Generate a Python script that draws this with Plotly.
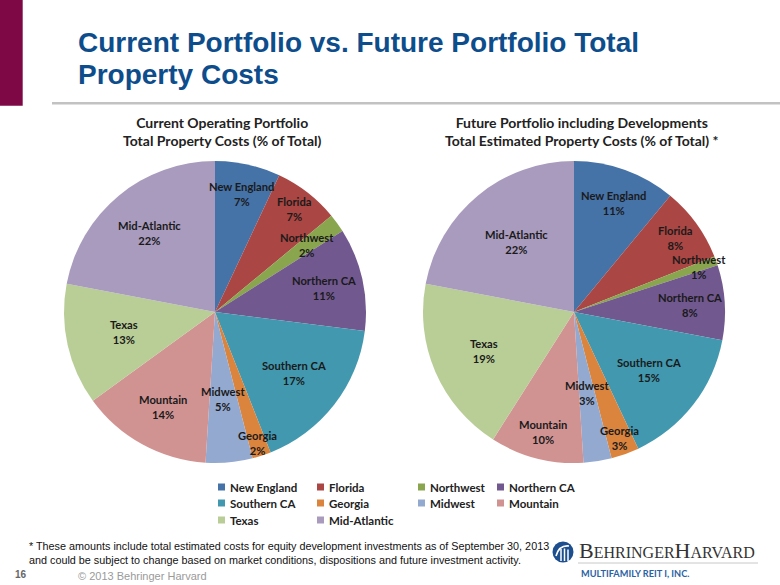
import math
import plotly.graph_objects as go

W, H = 780, 585

# ---------------- data ----------------
regions = ["New England", "Florida", "Northwest", "Northern CA", "Southern CA",
           "Georgia", "Midwest", "Mountain", "Texas", "Mid-Atlantic"]
current_pct = [7, 7, 2, 11, 17, 2, 5, 14, 13, 22]
future_pct = [11, 8, 1, 8, 15, 3, 3, 10, 19, 22]
colors = ["#4572A7", "#AA4643", "#89A54E", "#71588F", "#4198AF",
          "#DB843D", "#93A9CF", "#D19392", "#B9CD96", "#A99BBD"]

title_lines = ["Current Portfolio vs. Future Portfolio Total", "Property Costs"]
left_title = "Current Operating Portfolio<br>Total Property Costs (% of Total)"
right_title = "Future Portfolio including Developments<br>Total Estimated Property Costs (% of Total) *"
footnote = ("* These amounts include total estimated costs for equity development investments as of September 30, 2013<br>"
            "and could be subject to change based on market conditions, dispositions and future investment activity.")

# label placement (fraction of radius, Excel "best fit" style)
left_label_r = [0.80, 0.86, 0.75, 0.74, 0.66, 0.91, 0.58, 0.72, 0.62, 0.68]
right_label_r = [0.77, 0.83, 0.88, 0.77, 0.63, 0.89, 0.54, 0.82, 0.65, 0.60]

# ---------------- layout geometry ----------------
R = 151
pies = [
    dict(cx=215, cy=312, vals=current_pct, lr=left_label_r, title=left_title, tx=222),
    dict(cx=574, cy=312, vals=future_pct, lr=right_label_r, title=right_title, tx=582),
]


def px(x):
    return x / W


def py(y):
    return 1 - y / H


LBL_FONT = "Lato, Carlito, Calibri, sans-serif"

fig = go.Figure()
annotations = []
shapes = []

for p in pies:
    fig.add_trace(go.Pie(
        labels=regions, values=p["vals"], sort=False, direction="clockwise",
        rotation=0, marker=dict(colors=colors, line=dict(width=0)),
        textposition="none", hoverinfo="skip", showlegend=False,
        domain=dict(x=[px(p["cx"] - R), px(p["cx"] + R)],
                    y=[py(p["cy"] + R), py(p["cy"] - R)]),
    ))
    total = sum(p["vals"])
    cum = 0
    for lab, v, f in zip(regions, p["vals"], p["lr"]):
        th = 2 * math.pi * (cum + v / 2) / total
        cum += v
        x = p["cx"] + f * R * math.sin(th)
        y = p["cy"] - f * R * math.cos(th)
        annotations.append(dict(
            x=px(x), y=py(y), xref="paper", yref="paper", showarrow=False,
            text=f"<b>{lab}<br>{v}%</b>", xanchor="center", yanchor="middle",
            font=dict(family=LBL_FONT, size=11.2, color="#1a1a1a")))
    annotations.append(dict(
        x=px(p["tx"]), y=py(131), xref="paper", yref="paper", showarrow=False,
        text=f"<b>{p['title']}</b>", xanchor="center", yanchor="middle",
        font=dict(family=LBL_FONT, size=14, color="#222222")))

# ---------------- legend (swatches + text built from arrays) ----------------
col_x = [218, 317, 418, 497]
row_y = [487, 503, 520]
for i, (lab, c) in enumerate(zip(regions, colors)):
    r, k = divmod(i, 4)
    x0, yc = col_x[k], row_y[r]
    shapes.append(dict(type="rect", xref="paper", yref="paper",
                       x0=px(x0), x1=px(x0 + 7), y0=py(yc + 3.5), y1=py(yc - 3.5),
                       fillcolor=c, line=dict(width=0)))
    annotations.append(dict(
        x=px(x0 + 10), y=py(yc), xref="paper", yref="paper", showarrow=False,
        text=f"<b>{lab}</b>", xanchor="left", yanchor="middle",
        font=dict(family=LBL_FONT, size=11.5, color="#222222")))

# ---------------- page decorations ----------------
shapes.append(dict(type="rect", xref="paper", yref="paper", x0=0, x1=px(22.7),
                   y0=py(105.7), y1=1, fillcolor="#7E0845", line=dict(width=0)))
shapes.append(dict(type="line", xref="paper", yref="paper", x0=px(52), x1=1,
                   y0=py(103.3), y1=py(103.3), line=dict(color="#C2C2C2", width=2.5)))

for line, yc in zip(title_lines, [42.5, 74.5]):
    annotations.append(dict(
        x=px(76), y=py(yc), xref="paper", yref="paper", showarrow=False,
        text=f"<b>{line}</b>", xanchor="left", yanchor="middle", align="left",
        font=dict(family="Liberation Sans, Arial", size=28, color="#0E4D8C")))

annotations.append(dict(
    x=px(27), y=py(553), xref="paper", yref="paper", showarrow=False,
    text=footnote, xanchor="left", yanchor="middle", align="left",
    font=dict(family="Liberation Sans, Arial", size=10.8, color="#111111")))
annotations.append(dict(
    x=px(13), y=py(574), xref="paper", yref="paper", showarrow=False,
    text="<b>16</b>", xanchor="left", yanchor="middle",
    font=dict(family="Liberation Sans, Arial", size=10, color="#666666")))
annotations.append(dict(
    x=px(76), y=py(576), xref="paper", yref="paper", showarrow=False,
    text="© 2013 Behringer Harvard", xanchor="left", yanchor="middle",
    font=dict(family="Liberation Sans, Arial", size=11, color="#9A9A9A")))

# logo
shapes.append(dict(type="circle", xref="paper", yref="paper",
                   x0=px(552.5), x1=px(573.5), y0=py(562.5), y1=py(541.5),
                   fillcolor="#1D4F8E", line=dict(width=0)))
shapes.append(dict(type="path", xref="paper", yref="paper",
                   path=(f"M {px(556)},{py(556)} Q {px(559)},{py(545)} {px(569)},{py(546)}"),
                   line=dict(color="white", width=1.6)))
for dx, top in [(0, 549), (3.5, 548.5), (7, 549.5)]:
    shapes.append(dict(type="line", xref="paper", yref="paper",
                       x0=px(561 + dx), x1=px(561 + dx), y0=py(561), y1=py(top),
                       line=dict(color="white", width=1.5)))
annotations.append(dict(
    x=px(577), y=py(550), xref="paper", yref="paper", showarrow=False,
    text=("B<span style='font-size:16px'>EHRINGER</span>H"
          "<span style='font-size:16px'>ARVARD</span>"),
    xanchor="left", yanchor="middle",
    font=dict(family="Liberation Serif, Times New Roman, serif", size=22, color="#333333")))
shapes.append(dict(type="line", xref="paper", yref="paper", x0=px(578), x1=px(758),
                   y0=py(563), y1=py(563), line=dict(color="#C8C8C8", width=1)))
annotations.append(dict(
    x=px(579), y=py(573), xref="paper", yref="paper", showarrow=False,
    text="<b>MULTIFAMILY REIT I, INC.</b>", xanchor="left", yanchor="middle",
    font=dict(family="Lato, Open Sans, sans-serif", size=9.2, color="#2A62A3")))

fig.update_layout(
    width=W, height=H, margin=dict(l=0, r=0, t=0, b=0),
    paper_bgcolor="white", plot_bgcolor="white",
    showlegend=False, annotations=annotations, shapes=shapes,
)

fig.write_html("out.html")
